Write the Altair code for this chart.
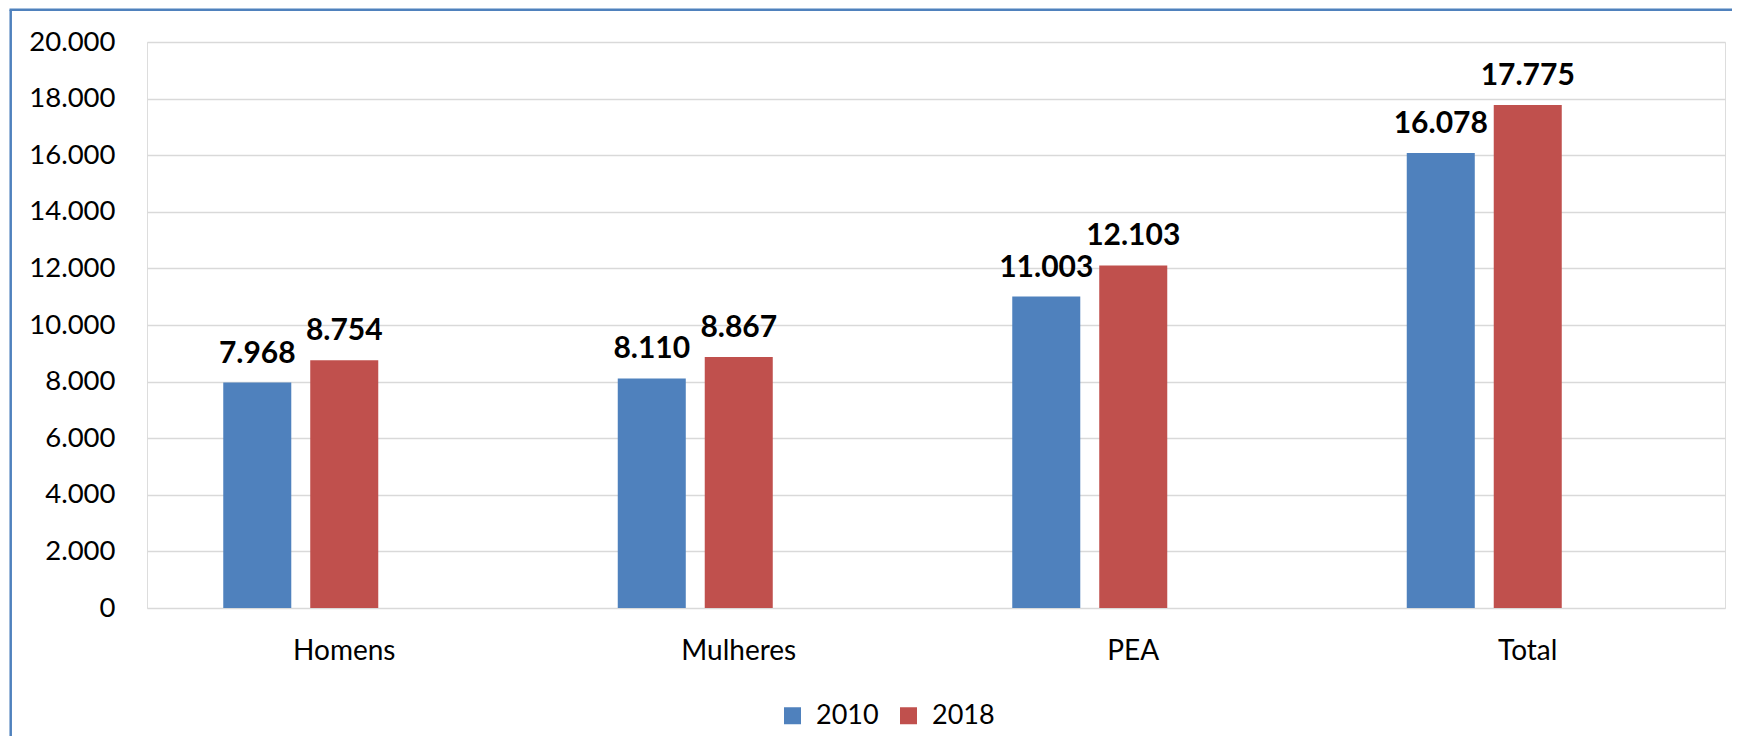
import altair as alt
import pandas as pd

categories = ["Homens", "Mulheres", "PEA", "Total"]
years = ["2010", "2018"]
values_2010 = [7968, 8110, 11003, 16078]
values_2018 = [8754, 8867, 12103, 17775]
y_ticks = [0, 2000, 4000, 6000, 8000, 10000, 12000, 14000, 16000, 18000, 20000]
colors = ["#4F81BD", "#C0504D"]

rows = []
for c, a, b in zip(categories, values_2010, values_2018):
    for yr, v in zip(years, (a, b)):
        rows.append({"cat": c, "year": yr, "value": v,
                     "label": f"{v:,}".replace(",", ".")})
df = pd.DataFrame(rows)

FONT = "Lato"

x_enc = alt.X("cat:N", sort=categories, title=None,
              scale=alt.Scale(paddingInner=0.3866, paddingOuter=0.1933),
              axis=alt.Axis(labelAngle=0, labelFontSize=28, labelFont=FONT,
                            labelColor="#000000", ticks=False, domain=False,
                            labelPadding=29, labelBaseline="top"))
xo_enc = alt.XOffset("year:N",
                     scale=alt.Scale(domain=["2010", "2018", "_"],
                                     paddingInner=0.218, paddingOuter=0))
y_enc = alt.Y("value:Q", title=None,
              scale=alt.Scale(domain=[0, 20000], nice=False),
              axis=alt.Axis(values=y_ticks, labelFontSize=27.5, labelFont=FONT,
                            labelColor="#000000", ticks=False, domain=False,
                            labelPadding=32, gridColor="#D9D9D9",
                            gridWidth=1.5,
                            labelExpr="replace(format(datum.value, ','), ',', '.')"))

base = alt.Chart(df)

bars = base.mark_bar().encode(
    x=x_enc,
    xOffset=xo_enc,
    y=y_enc,
    color=alt.Color("year:N", scale=alt.Scale(domain=years, range=colors),
                    title=None,
                    legend=alt.Legend(orient="none", direction="horizontal",
                                      legendX=632, legendY=660,
                                      symbolType="square", symbolSize=289,
                                      symbolStrokeWidth=0, labelFontSize=27,
                                      labelFont=FONT, labelColor="#000000",
                                      labelOffset=10, columnPadding=16,
                                      padding=0)),
)

labels = base.mark_text(baseline="alphabetic", dy=-20, fontWeight="bold",
                        fontSize=30, font=FONT, color="#000000").encode(
    x=alt.X("cat:N", sort=categories),
    xOffset=alt.XOffset("year:N"),
    y=alt.Y("value:Q"),
    text="label:N",
)

one = alt.Data(values=[{}])
border_left = alt.Chart(one).mark_rule(color="#4F81BD", strokeWidth=2.5).encode(
    x=alt.value(-136.3), y=alt.value(-32.3), y2=alt.value(800))
border_top = alt.Chart(one).mark_rule(color="#4F81BD", strokeWidth=2.5).encode(
    x=alt.value(-137.5), x2=alt.value(1800), y=alt.value(-32.3))

chart = alt.layer(bars, labels, border_left, border_top).properties(
    width=1578, height=566,
    autosize=alt.AutoSizeParams(type="none"),
    padding={"left": 139, "top": 34, "right": 7, "bottom": 128},
).configure_view(strokeWidth=0).configure(background="#ffffff")

chart.save("out.html", embed_options={"renderer": "svg", "actions": False})
